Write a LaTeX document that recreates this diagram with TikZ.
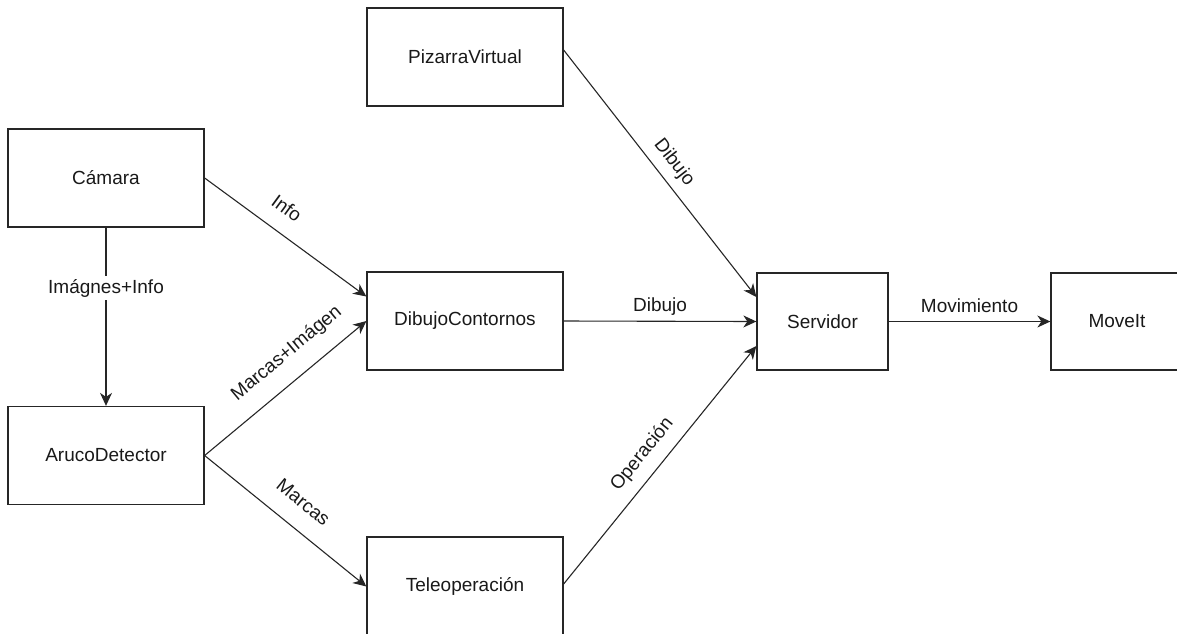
\documentclass[tikz,border=0pt]{standalone}
\usepackage{fontspec}
\setmainfont{Liberation Sans}
\usetikzlibrary{arrows.meta}
\begin{document}
\begin{tikzpicture}[x=1pt,y=-1pt,
  box/.style={draw=black!85, line width=1.3pt, minimum width=196pt, minimum height=98pt, inner sep=0pt, font=\fontsize{19}{22}\selectfont, text=black!90},
  conn/.style={draw=black!85, line width=1.1pt, -{Stealth[length=13pt,width=12pt,inset=4pt]}},
  lbl/.style={font=\fontsize{19}{22}\selectfont, text=black!90, inner sep=0pt, text height=14pt, text depth=4pt}
]
\useasboundingbox (0,0) rectangle (1177,633);
\node[box] (piz) at (465,57) {PizarraVirtual};
\node[box] (cam) at (106,178) {Cámara};
\node[box] (dib) at (465,321) {DibujoContornos};
\node[box] (aru) at (106,455.5) {ArucoDetector};
\node[box, minimum height=99pt] (tel) at (465,586.5) {Teleoperación};
\node[box, minimum width=131pt, minimum height=97pt] (ser) at (822.5,321.5) {Servidor};
\node[box, minimum width=132pt, minimum height=97pt] (mov) at (1117,321.5) {MoveIt};

\draw[conn] (cam.south) -- node[lbl, pos=0.34, fill=white, inner ysep=3pt] {Imágnes+Info} (aru.north);
\draw[conn] (cam.east) -- node[lbl, pos=0.42, sloped, above=13pt] {Info} ([yshift=24.5pt]dib.west);
\draw[conn] (aru.east) -- node[lbl, pos=0.61, sloped, above=16.5pt] {Marcas+Imágen} (dib.west);
\draw[conn] (aru.east) -- node[lbl, pos=0.51, sloped, above=15pt] {Marcas} (tel.west);
\draw[conn] ([yshift=7pt]piz.east) -- node[lbl, pos=0.5, sloped, above=8.3pt] {Dibujo} ([yshift=24.5pt]ser.west);
\draw[conn] (dib.east) -- node[lbl, pos=0.5, above=5pt] {Dibujo} (ser.west);
\draw[conn] ([yshift=2.5pt]tel.east) -- node[lbl, pos=0.49, sloped, above=10.8pt] {Operación} ([yshift=-24.5pt]ser.west);
\draw[conn] (ser.east) -- node[lbl, pos=0.5, above=4pt] {Movimiento} (mov.west);
\end{tikzpicture}
\end{document}
